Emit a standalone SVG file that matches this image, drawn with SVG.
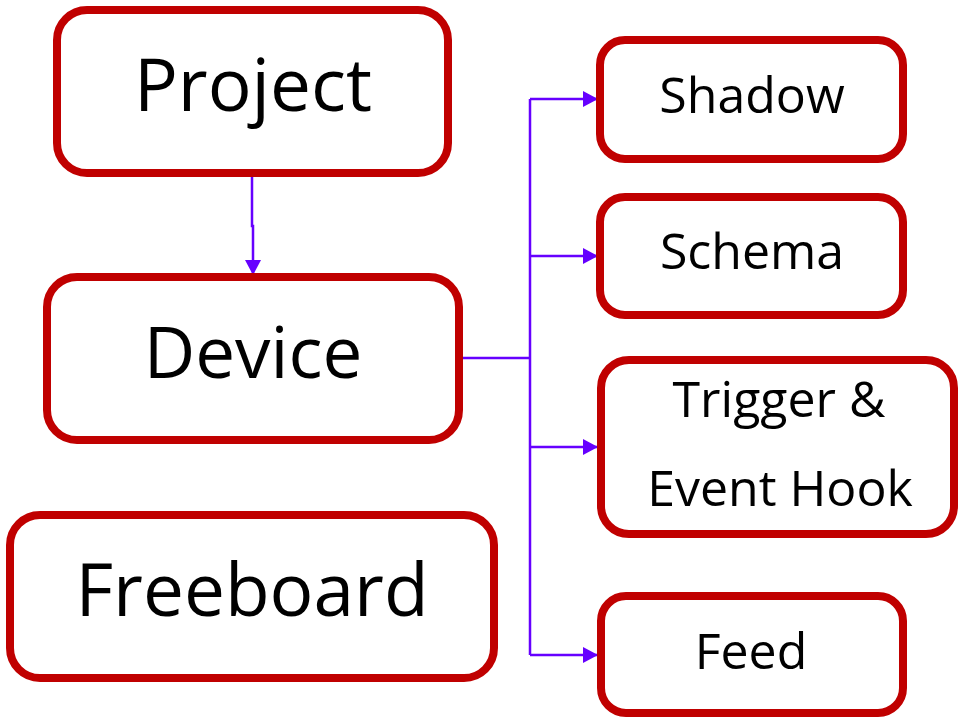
<svg xmlns="http://www.w3.org/2000/svg" width="958" height="718" viewBox="0 0 958 718">
  <style>
    .box { fill: #ffffff; stroke: #c00000; stroke-width: 8; }
    .label { font-family: "Open Sans", "Noto Sans", "DejaVu Sans", sans-serif; fill: #000000; text-anchor: middle; }
    .big { font-size: 73px; }
    .small { font-size: 50px; }
    .wire { fill: none; stroke: #6600ff; stroke-width: 2.5; }
  </style>
  <defs>
    <marker id="arrow" markerUnits="userSpaceOnUse" markerWidth="15" markerHeight="16" refX="15" refY="8" orient="auto">
      <path d="M0,0 L15,8 L0,16 Z" fill="#6600ff"/>
    </marker>
  </defs>

  <rect width="958" height="718" fill="#ffffff"/>

  <!-- links between the boxes -->
  <g id="connectors">
    <path class="wire" d="M252,175 V226 H253 V275" marker-end="url(#arrow)"/>
    <path class="wire" d="M461,358 H530"/>
    <path class="wire" d="M530,99 V655"/>
    <path class="wire" d="M530,99 H598" marker-end="url(#arrow)"/>
    <path class="wire" d="M530,256 H598" marker-end="url(#arrow)"/>
    <path class="wire" d="M530,447 H598" marker-end="url(#arrow)"/>
    <path class="wire" d="M530,655 H598" marker-end="url(#arrow)"/>
  </g>

  <g id="project">
    <rect class="box" x="57" y="10" width="391" height="163" rx="30"/>
    <text class="label big" x="253" y="111">Project</text>
  </g>

  <g id="device">
    <rect class="box" x="47" y="277" width="412" height="163" rx="30"/>
    <text class="label big" x="253" y="378" style="font-size:71px">Device</text>
  </g>

  <g id="freeboard">
    <rect class="box" x="10" y="515" width="484" height="163" rx="30"/>
    <text class="label big" x="252" y="616">Freeboard</text>
  </g>

  <g id="shadow">
    <rect class="box" x="600" y="40" width="303" height="119" rx="25"/>
    <text class="label small" x="752" y="113">Shadow</text>
  </g>

  <g id="schema">
    <rect class="box" x="600" y="197" width="303" height="118" rx="25"/>
    <text class="label small" x="752" y="269">Schema</text>
  </g>

  <g id="trigger">
    <rect class="box" x="601" y="360" width="353" height="174" rx="28"/>
    <text class="label small" x="779" y="417">Trigger &amp;</text>
    <text class="label small" x="780" y="506">Event Hook</text>
  </g>

  <g id="feed">
    <rect class="box" x="601" y="596" width="302" height="117" rx="25"/>
    <text class="label small" x="751" y="669">Feed</text>
  </g>
</svg>
